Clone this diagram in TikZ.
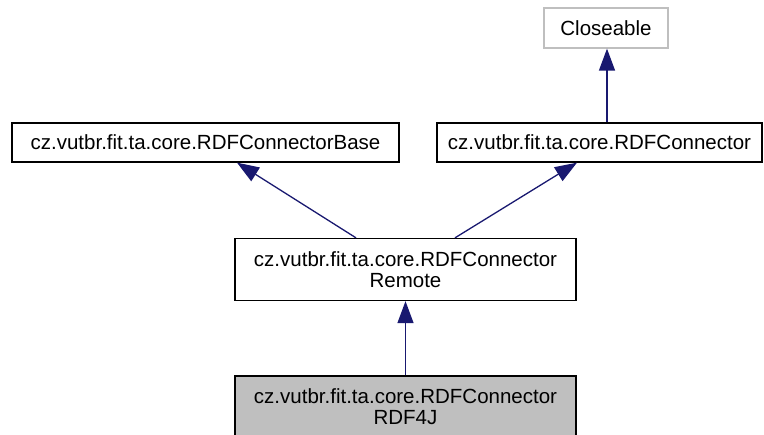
\documentclass[tikz,border=0pt]{standalone}
\usepackage{fontspec}
\setmainfont{Liberation Sans}
\usetikzlibrary{arrows.meta}
\definecolor{edgeblue}{HTML}{191970}
\definecolor{nodegray}{HTML}{BFBFBF}
\begin{document}
\begin{tikzpicture}[x=1pt, y=-1pt,
        cls/.style={rectangle, draw=black, line width=1.3pt, inner sep=0pt, minimum height=39pt, align=center, font=\fontsize{20.5}{20.5}\selectfont},
        inherit/.style={draw=edgeblue, line width=1.3pt, -{Triangle[length=22pt, width=16pt]}}]
    \useasboundingbox (0,0) rectangle (764,435);
    % Classes
    \node[cls, draw=nodegray, minimum width=124pt, minimum height=40pt] (closeable) at (606,28) {Closeable};
    \node[cls, minimum width=387pt] (base) at (205.5,142.5) {cz.vutbr.fit.ta.core.RDFConnectorBase};
    \node[cls, minimum width=325pt] (connector) at (599.5,142.5) {cz.vutbr.fit.ta.core.RDFConnector};
    \node[cls, minimum width=341pt, minimum height=62pt] (remote) at (405.5,269.5) {cz.vutbr.fit.ta.core.RDFConnector\\Remote};
    \node[cls, fill=nodegray, minimum width=341pt, minimum height=61pt] (rdffourj) at (405.5,406.5) {cz.vutbr.fit.ta.core.RDFConnector\\RDF4J};

    % Inheritance
    \draw[inherit] ([xshift=7.5pt]connector.north) -- ([xshift=1pt]closeable.south);
    \draw[inherit] ([xshift=-49.5pt]remote.north) -- ([xshift=31.5pt]base.south);
    \draw[inherit] ([xshift=49.5pt]remote.north) -- ([xshift=-22.5pt]connector.south);
    \draw[inherit] (rdffourj.north) -- (remote.south);
\end{tikzpicture}
\end{document}
